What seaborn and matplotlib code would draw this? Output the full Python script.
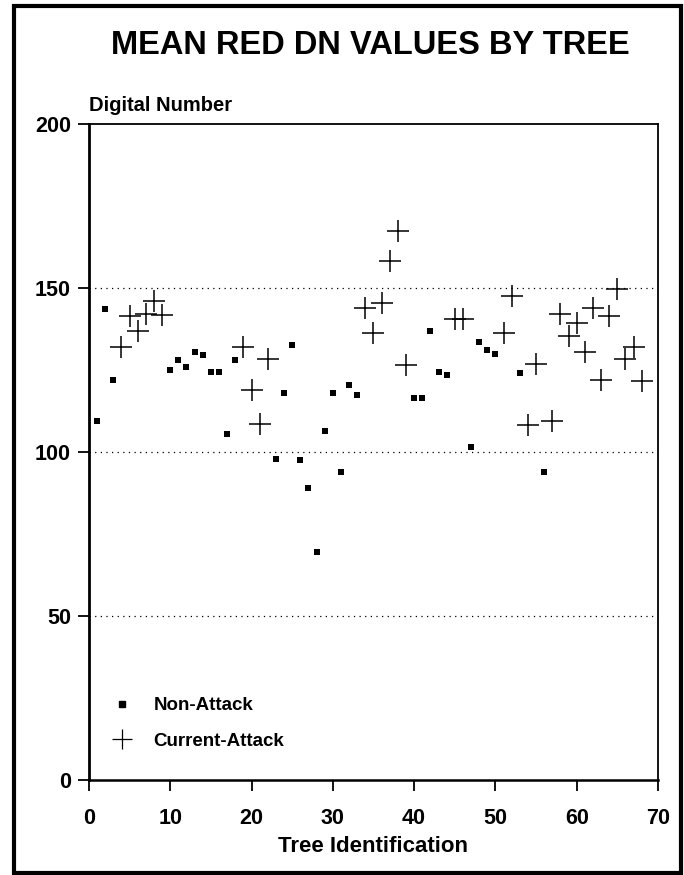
import matplotlib
matplotlib.use("Agg")
import matplotlib.pyplot as plt
import seaborn as sns
import pandas as pd
from matplotlib.patches import Rectangle
from matplotlib.lines import Line2D

sns.set_theme(style="white")
plt.rcParams['font.family'] = ['Liberation Sans', 'DejaVu Sans']
plt.rcParams['text.color'] = 'black'
plt.rcParams['axes.labelcolor'] = 'black'
plt.rcParams['xtick.color'] = 'black'
plt.rcParams['ytick.color'] = 'black'

non_attack_ids = [1, 2, 3, 10, 11, 12, 13, 14, 15, 16, 17, 18,
                  23, 24, 25, 26, 27, 28, 29, 30, 31, 32, 33,
                  40, 41, 42, 43, 44, 47, 48, 49, 50, 53, 56]
non_attack_dn = [109.5, 143.5, 122, 125, 128, 126, 130.5, 129.5, 124.5, 124.5, 105.5, 128,
                 98, 118, 132.5, 97.5, 89, 69.5, 106.5, 118, 94, 120.5, 117.5,
                 116.5, 116.5, 137, 124.5, 123.5, 101.5, 133.5, 131, 130, 124, 94]

attack_ids = [4, 5, 6, 7, 8, 9, 19, 20, 21, 22,
              34, 35, 36, 37, 38, 39, 45, 46, 51, 52, 54, 55,
              57, 58, 59, 60, 61, 62, 63, 64, 65, 66, 67, 68]
attack_dn = [132, 141.5, 137, 142, 146, 141.8, 132, 119, 108.5, 128.5,
             144, 136.2, 145.3, 158.3, 167.5, 126.4, 140.4, 140.4, 136.4, 147.6, 108.2, 126.8,
             109.5, 142, 135.4, 139.4, 130.5, 144, 122, 141.5, 149.6, 128.5, 132, 121.7]

x_ticks = [0, 10, 20, 30, 40, 50, 60, 70]
y_ticks = [0, 50, 100, 150, 200]
grid_levels = [50, 100, 150]

df_non = pd.DataFrame({"tree": non_attack_ids, "dn": non_attack_dn})
df_att = pd.DataFrame({"tree": attack_ids, "dn": attack_dn})

fig = plt.figure(figsize=(6.84, 8.75), dpi=100)
ax = fig.add_axes([0.130, 0.1086, 0.832, 0.7497])

for lvl in grid_levels:
    ax.axhline(lvl, color="black", linestyle=(0, (1, 3.5)), linewidth=0.9, zorder=1)

sns.scatterplot(data=df_non, x="tree", y="dn", ax=ax, marker="s", s=24,
                color="black", edgecolor="black", linewidth=0, zorder=3, legend=False)
sns.scatterplot(data=df_att, x="tree", y="dn", ax=ax, marker="+", s=260,
                color="black", linewidth=1.1, zorder=3, legend=False)

ax.set_xlim(0, 70)
ax.set_ylim(0, 200)
ax.set_xticks(x_ticks)
ax.set_yticks(y_ticks)
ax.set_xlabel("Tree Identification", fontsize=16, fontweight="bold", labelpad=5)
ax.set_ylabel("")
for lab in ax.get_xticklabels() + ax.get_yticklabels():
    lab.set_fontweight("bold")
    lab.set_fontsize(15.5)
ax.tick_params(axis="both", direction="out", length=8, width=1.3, color="black",
               bottom=True, left=True)
ax.tick_params(axis="x", pad=12)
ax.tick_params(axis="y", pad=5)
for sp in ax.spines.values():
    sp.set_visible(True)
    sp.set_color("black")
    sp.set_linewidth(1.3)
ax.spines["left"].set_linewidth(2.0)
ax.spines["bottom"].set_linewidth(1.8)

ax.text(0.0, 1.014, "Digital Number", transform=ax.transAxes, ha="left", va="bottom",
        fontsize=14.5, fontweight="bold")

fig.text(0.541, 0.948, "MEAN RED DN VALUES BY TREE", ha="center", va="center",
         fontsize=23.5, fontweight="bold")

handles = [
    Line2D([], [], marker="s", linestyle="none", color="black", markersize=4.5),
    Line2D([], [], marker="+", linestyle="none", color="black", markersize=15,
           markeredgewidth=0.9),
]
leg = ax.legend(handles, ["Non-Attack", "Current-Attack"], loc="lower left",
                bbox_to_anchor=(-0.005, 0.02), frameon=False, handletextpad=0.7,
                handlelength=2.0, labelspacing=1.0, prop={"weight": "bold", "size": 13.5})

fig.patches.append(Rectangle((14 / 684, 2 / 875), (681 - 14) / 684, (869 - 2) / 875,
                             transform=fig.transFigure, fill=False,
                             edgecolor="black", linewidth=3.0))

fig.savefig("out.png", dpi=100, facecolor="white")
